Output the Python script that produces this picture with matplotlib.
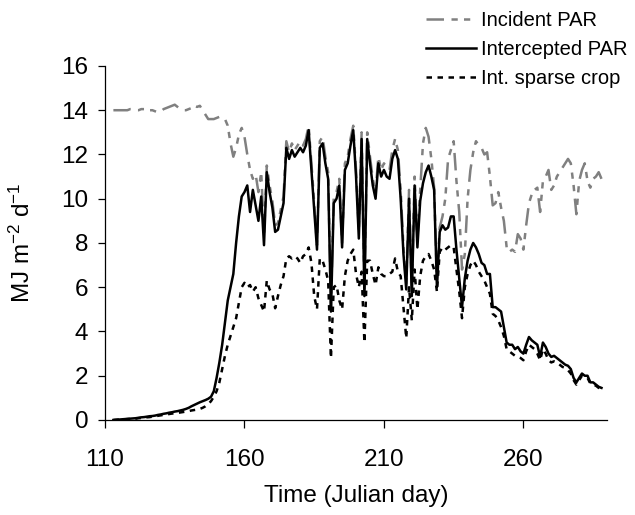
import matplotlib
matplotlib.use('Agg')
import matplotlib.pyplot as plt
from matplotlib.ticker import MultipleLocator

# Julian days of the observations
days = list(range(113, 289))

# Incident PAR (MJ m-2 d-1)
incident = [
    14.0, 14.0, 14.0, 14.0, 14.0, 14.0, 14.05, 14.05, 14.0, 14.0,      # 113-122
    14.05, 14.05, 14.05, 14.0, 14.0, 13.95, 13.9, 13.95, 14.05, 14.1,  # 123-132
    14.15, 14.2, 14.25, 14.15, 14.05, 14.0, 14.0, 14.05, 14.1, 14.2,   # 133-142
    14.15, 14.2, 14.0, 13.8, 13.6, 13.6, 13.6, 13.65, 13.7, 13.7,      # 143-152
    13.6, 13.3, 12.5, 11.9, 12.3, 12.9, 13.2, 12.8, 12.0, 11.3,        # 153-162
    10.9, 11.1, 10.3, 11.2, 8.3, 11.5, 10.6, 9.9, 8.8, 8.9,            # 163-172
    9.5, 10.1, 12.6, 12.1, 12.5, 12.2, 12.4, 12.6, 12.4, 12.7,         # 173-182
    13.3, 11.6, 9.8, 7.9, 12.6, 12.8, 11.9, 11.2, 5.1, 10.1,           # 183-192
    10.3, 10.9, 8.0, 11.6, 11.9, 12.7, 13.3, 11.3, 8.5, 13.0,          # 193-202
    5.8, 13.0, 11.9, 10.9, 10.3, 11.9, 11.3, 11.6, 11.4, 11.3,         # 203-212
    12.2, 12.7, 12.2, 10.4, 7.8, 6.1, 10.4, 5.8, 11.0, 8.1,            # 213-222
    10.4, 12.5, 13.2, 12.8, 11.8, 10.5, 6.3, 8.7, 9.2, 10.0,           # 223-232
    11.8, 12.2, 12.6, 10.8, 9.4, 6.8, 7.5, 10.0, 11.3, 12.1,           # 233-242
    12.6, 12.4, 12.3, 12.0, 12.1, 11.0, 9.7, 9.8, 10.3, 9.6,           # 243-252
    9.0, 7.8, 7.6, 7.7, 7.6, 8.4, 8.2, 7.7, 8.8, 9.8,                  # 253-262
    10.2, 10.4, 10.5, 9.4, 10.8, 11.0, 11.3, 10.4, 10.6, 11.0,         # 263-272
    11.2, 11.4, 11.6, 11.8, 11.6, 10.6, 9.3, 10.8, 11.3, 11.6,         # 273-282
    10.8, 10.5, 10.9, 11.0, 11.2, 10.9,                                # 283-288
]

# Intercepted PAR
intercepted = [
    0.0, 0.01, 0.02, 0.03, 0.04, 0.05, 0.06, 0.07, 0.08, 0.10,
    0.12, 0.13, 0.15, 0.17, 0.18, 0.20, 0.23, 0.25, 0.28, 0.30,
    0.33, 0.35, 0.38, 0.40, 0.43, 0.46, 0.50, 0.55, 0.62, 0.68,
    0.74, 0.80, 0.85, 0.90, 0.96, 1.05, 1.3, 1.9, 2.6, 3.4,
    4.4, 5.4, 6.0, 6.6, 8.0, 9.2, 10.1, 10.3, 10.6, 9.4,
    10.4, 9.7, 9.0, 10.1, 7.9, 11.2, 10.3, 9.6, 8.5, 8.6,
    9.2, 9.8, 12.3, 11.8, 12.2, 11.9, 12.1, 12.3, 12.1, 12.4,
    13.1, 11.3, 9.5, 7.7, 12.3, 12.5, 11.6, 10.9, 4.9, 9.8,
    10.0, 10.6, 7.8, 11.3, 11.6, 12.4, 13.1, 11.0, 8.2, 12.7,
    5.6, 12.7, 11.6, 10.6, 10.0, 11.6, 11.0, 11.3, 11.0, 10.9,
    11.8, 12.2, 11.8, 10.0, 7.5, 5.9, 10.0, 5.6, 10.6, 7.8,
    9.9, 10.7, 11.2, 11.5, 11.0, 10.4, 6.0, 8.5, 8.8, 8.6,
    8.7, 9.2, 9.2, 7.7, 6.4, 5.1, 6.4, 7.2, 7.7, 8.0,
    7.8, 7.5, 7.1, 7.0, 6.6, 6.6, 5.1, 5.1, 5.0, 4.9,
    4.2, 3.5, 3.4, 3.4, 3.2, 3.3, 3.1, 3.0, 3.4, 3.75,
    3.6, 3.5, 3.4, 2.85, 3.5, 3.3, 3.0, 2.85, 2.9, 2.8,
    2.7, 2.6, 2.5, 2.45, 2.3, 1.9, 1.7, 1.9, 2.1, 2.0,
    2.0, 1.7, 1.7, 1.6, 1.5, 1.45,
]

# Intercepted PAR, sparse crop
sparse = [
    0.0, 0.01, 0.02, 0.02, 0.03, 0.04, 0.05, 0.05, 0.06, 0.08,
    0.09, 0.10, 0.12, 0.13, 0.15, 0.17, 0.19, 0.21, 0.23, 0.25,
    0.27, 0.29, 0.30, 0.32, 0.34, 0.36, 0.38, 0.40, 0.43, 0.45,
    0.47, 0.50, 0.55, 0.62, 0.72, 0.85, 1.05, 1.3, 1.7, 2.3,
    2.9, 3.4, 3.8, 4.2, 4.6, 5.3, 6.0, 6.2, 6.0, 6.1,
    5.8, 6.0, 5.5, 5.2, 4.9, 6.3, 5.9, 5.7, 5.05, 5.6,
    6.1, 6.5, 7.3, 7.4, 7.3, 7.4, 7.3, 7.1, 7.4, 7.5,
    7.8, 7.1, 5.6, 5.0, 7.3, 7.2, 6.8, 6.3, 2.8, 6.0,
    6.1, 5.4, 5.0, 6.5, 7.2, 7.5, 7.7, 6.6, 6.0, 6.7,
    3.5, 7.2, 7.2, 6.6, 6.1, 6.9, 6.6, 6.5, 6.5, 6.6,
    6.7, 7.3, 6.7, 6.5, 5.1, 3.7, 6.0, 4.5, 6.8, 5.0,
    6.5, 7.2, 7.4, 7.5, 7.2, 6.8, 5.8, 7.6, 7.8, 7.7,
    7.8, 7.9, 7.8, 6.8, 5.8, 4.6, 6.0, 6.6, 7.0, 7.2,
    7.0, 6.7, 6.5, 6.3, 6.0, 5.7, 4.8, 4.7, 4.5, 4.2,
    3.8, 3.2, 3.1, 3.0, 2.9, 2.85, 2.8, 2.7, 3.1, 3.4,
    3.3, 3.2, 3.0, 2.7, 3.2, 3.0, 2.7, 2.6, 2.65, 2.6,
    2.5, 2.4, 2.35, 2.25, 2.1, 1.8, 1.6, 1.8, 2.0, 1.9,
    1.9, 1.65, 1.6, 1.55, 1.45, 1.4,
]

x_ticks = [110, 160, 210, 260]

plt.rcParams['font.family'] = ['Liberation Sans', 'DejaVu Sans']
plt.rcParams['mathtext.fontset'] = 'custom'
plt.rcParams['mathtext.rm'] = 'Liberation Sans'
plt.rcParams['mathtext.default'] = 'regular'

fig = plt.figure(figsize=(6.35, 5.15), dpi=100)
ax = fig.add_axes([0.1654, 0.1845, 0.7906, 0.6874])

ax.plot(days, incident, color='#808080', lw=1.8,
        dashes=(7, 3, 2.5, 2.5, 2.5, 3), label='Incident PAR')
ax.plot(days, intercepted, color='black', lw=1.8, label='Intercepted PAR')
ax.plot(days, sparse, color='black', lw=1.8, dashes=(2.2, 2.2),
        label='Int. sparse crop')

ax.set_xlim(110, 290)
ax.set_ylim(0, 16)
ax.set_xticks(x_ticks)
ax.yaxis.set_major_locator(MultipleLocator(2))

for side in ['top', 'right']:
    ax.spines[side].set_visible(False)
for side in ['left', 'bottom']:
    ax.spines[side].set_linewidth(0.9)

ax.tick_params(axis='x', direction='out', length=6, width=0.9, pad=15, labelsize=17.5)
ax.tick_params(axis='y', direction='out', length=5, width=0.9, pad=7, labelsize=17.5)

ax.set_xlabel('Time (Julian day)', fontsize=17.5, labelpad=10)
ax.set_ylabel('MJ m$^{-2}$ d$^{-1}$', fontsize=17.5)
ax.yaxis.set_label_coords(-0.14, 0.5)

ax.legend(loc='upper left', bbox_to_anchor=(416 / 635, 1 - 1 / 515),
          bbox_transform=fig.transFigure, frameon=False, fontsize=14.5,
          borderpad=0, handlelength=2.5, handletextpad=0.25, labelspacing=0.5)

fig.savefig('out.png', dpi=100)
